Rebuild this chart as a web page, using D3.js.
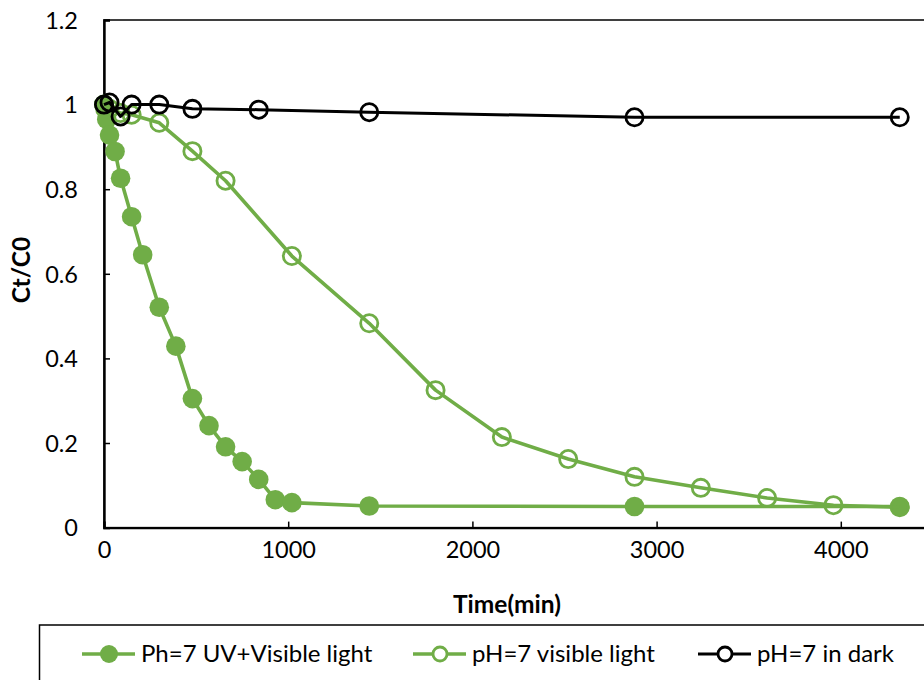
<!DOCTYPE html>
<html>
<head>
<meta charset="utf-8">
<script src="https://cdn.jsdelivr.net/npm/d3@7"></script>
<style>
  html, body { margin: 0; padding: 0; background: #fff; }
  svg { display: block; font-family: Lato, "Open Sans", sans-serif; }
</style>
</head>
<body>
<svg id="chart" width="924" height="680"></svg>
<script>
// ---- data ----
const uvTime = [0, 5, 15, 30, 60, 90, 150, 210, 300, 390, 480, 570, 660, 750, 840, 930, 1020, 1440, 2880, 4320];
const uvValue = [1.0, 0.99, 0.965, 0.928, 0.889, 0.826, 0.735, 0.645, 0.521, 0.429, 0.305, 0.241, 0.191, 0.156, 0.114, 0.066, 0.059, 0.051, 0.05, 0.05];

const visTime = [0, 30, 90, 150, 300, 480, 660, 1020, 1440, 1800, 2160, 2520, 2880, 3240, 3600, 3960, 4320];
const visValue = [1.0, 0.99, 0.98, 0.976, 0.957, 0.89, 0.82, 0.642, 0.483, 0.325, 0.214, 0.162, 0.12, 0.094, 0.07, 0.053, 0.048];

const darkTime = [0, 30, 90, 150, 300, 480, 840, 1440, 2880, 4320];
const darkValue = [1.0, 1.005, 0.972, 1.0, 1.0, 0.99, 0.988, 0.982, 0.97, 0.97];

const xTicks = [0, 1000, 2000, 3000, 4000];
const yTicks = [0, 0.2, 0.4, 0.6, 0.8, 1.0, 1.2];

const seriesNames = ["Ph=7 UV+Visible light", "pH=7 visible light", "pH=7 in dark"];
const xTitle = "Time(min)";
const yTitle = "Ct/C0";

// ---- layout ----
const svg = d3.select("#chart");
const plotLeft = 104, plotTop = 20, plotBottom = 527.6;
const x = d3.scaleLinear().domain([0, 4500]).range([plotLeft, plotLeft + 4.5 * 184.2]);
const y = d3.scaleLinear().domain([0, 1.2]).range([plotBottom, plotTop]);

const green = "#70AD47";
const black = "#000000";

// plot border
svg.append("rect")
  .attr("x", x(0)).attr("y", y(1.2))
  .attr("width", x(4500) - x(0)).attr("height", y(0) - y(1.2))
  .attr("fill", "none").attr("stroke", "#000").attr("stroke-width", 1.5);

// axes (inside ticks)
const xAxis = d3.axisBottom(x).tickValues(xTicks).tickSize(-6).tickPadding(14).tickFormat(d3.format("d"));
const yAxis = d3.axisLeft(y).tickValues(yTicks).tickSize(-6).tickPadding(26)
  .tickFormat(d => d === 0 ? "0" : (d === 1 ? "1" : d3.format(".1f")(d)));

const gx = svg.append("g").attr("transform", `translate(0,${y(0)})`).call(xAxis);
const gy = svg.append("g").attr("transform", `translate(${x(0)},0)`).call(yAxis);
[gx, gy].forEach(g => {
  g.select(".domain").attr("stroke", "#000").attr("stroke-width", 2.4);
  g.selectAll(".tick line").attr("stroke", "#000").attr("stroke-width", 1.5);
  g.selectAll(".tick text").attr("fill", "#000").style("font-size", "23.5px").style("font-family", "Lato, sans-serif");
});
gy.selectAll(".tick text").attr("dy", "0.35em");
gx.selectAll(".tick text").attr("dy", "0.71em");

// axis titles
svg.append("text").attr("x", 507).attr("y", 613).attr("text-anchor", "middle")
  .style("font-size", "24.5px").style("font-weight", "bold").text(xTitle);
svg.append("text").attr("transform", "translate(30,270) rotate(-90)").attr("text-anchor", "middle")
  .style("font-size", "24.5px").style("font-weight", "bold").text(yTitle);

// series
const line = d3.line().x(d => x(d[0])).y(d => y(d[1]));
const series = [
  { name: seriesNames[0], t: uvTime, v: uvValue, color: green, filled: true, lw: 3.6 },
  { name: seriesNames[1], t: visTime, v: visValue, color: green, filled: false, lw: 3.6 },
  { name: seriesNames[2], t: darkTime, v: darkValue, color: black, filled: false, lw: 3 }
];

series.forEach(s => {
  const pts = s.t.map((t, i) => [t, s.v[i]]);
  svg.append("path").datum(pts).attr("d", line)
    .attr("fill", "none").attr("stroke", s.color).attr("stroke-width", s.lw).attr("stroke-linejoin", "round");
  svg.append("g").selectAll("circle").data(pts).join("circle")
    .attr("cx", d => x(d[0])).attr("cy", d => y(d[1]))
    .attr("r", s.filled ? 9.8 : 8.6)
    .attr("fill", s.filled ? s.color : "none")
    .attr("stroke", s.filled ? "none" : s.color)
    .attr("stroke-width", 2.8);
});

// legend
svg.append("rect").attr("x", 39.5).attr("y", 625).attr("width", 900).attr("height", 80)
  .attr("fill", "none").attr("stroke", "#000").attr("stroke-width", 1.5);
const legendX = [82, 413, 698];
series.forEach((s, i) => {
  const g = svg.append("g").attr("transform", `translate(${legendX[i]},654)`);
  g.append("line").attr("x1", 0).attr("x2", 53).attr("y1", 0).attr("y2", 0)
    .attr("stroke", s.color).attr("stroke-width", s.lw);
  g.append("circle").attr("cx", 27).attr("cy", 0)
    .attr("r", s.filled ? 9 : 7)
    .attr("fill", s.filled ? s.color : "#fff")
    .attr("stroke", s.filled ? "none" : s.color).attr("stroke-width", 2.8);
  g.append("text").attr("x", 59).attr("y", 0).attr("dy", "0.35em")
    .style("font-size", "24px").text(s.name);
});
</script>
</body>
</html>
